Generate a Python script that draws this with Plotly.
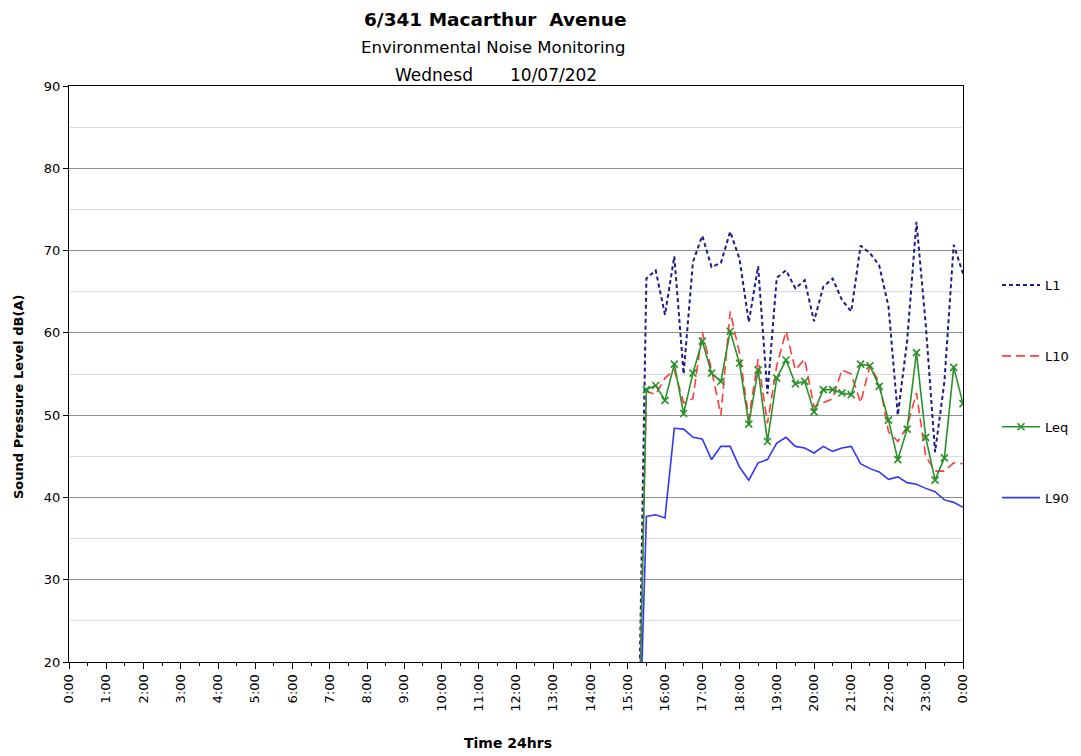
import plotly.graph_objects as go

# ---------------- data ----------------
times = ["15:15", "15:30", "15:45", "16:00", "16:15", "16:30", "16:45", "17:00", "17:15",
         "17:30", "17:45", "18:00", "18:15", "18:30", "18:45", "19:00", "19:15",
         "19:30", "19:45", "20:00", "20:15", "20:30", "20:45", "21:00", "21:15",
         "21:30", "21:45", "22:00", "22:15", "22:30", "22:45", "23:00", "23:15",
         "23:30", "23:45", "24:00"]

L1 = [0, 66.6, 67.6, 62.2, 69.3, 55.0, 68.6, 71.8, 68.0, 68.5, 72.3, 69.0, 61.3,
      68.1, 52.6, 66.7, 67.6, 65.4, 66.4, 61.4, 65.6, 66.6, 64.0, 62.6, 70.6,
      69.7, 68.2, 63.2, 50.0, 59.0, 73.5, 61.0, 45.5, 54.0, 70.7, 67.2]

L10 = [0, 52.9, 52.5, 54.5, 55.5, 51.5, 52.0, 60.1, 55.5, 50.0, 62.6, 57.5, 49.6,
       56.8, 49.0, 56.0, 60.2, 55.5, 56.8, 51.0, 51.5, 52.0, 55.5, 55.0, 51.5,
       56.0, 54.0, 48.0, 46.8, 48.6, 52.7, 45.0, 43.2, 43.2, 44.2, 44.1]

Leq = [0, 53.1, 53.6, 51.8, 56.2, 50.2, 55.1, 59.0, 55.1, 54.1, 60.2, 56.3, 48.9,
       55.5, 46.8, 54.5, 56.7, 53.8, 54.1, 50.4, 53.1, 53.1, 52.7, 52.5, 56.2,
       56.0, 53.5, 49.4, 44.6, 48.3, 57.6, 47.3, 42.1, 44.8, 55.8, 51.4]

L90 = [0, 37.7, 37.9, 37.5, 48.4, 48.3, 47.3, 47.1, 44.6, 46.2, 46.2, 43.7, 42.1,
       44.2, 44.6, 46.6, 47.3, 46.2, 46.0, 45.4, 46.2, 45.6, 46.0, 46.2, 44.1,
       43.5, 43.1, 42.2, 42.5, 41.8, 41.6, 41.1, 40.7, 39.7, 39.4, 38.8]

tick_hours = list(range(25))
tick_labels = ["0:00", "1:00", "2:00", "3:00", "4:00", "5:00", "6:00", "7:00", "8:00",
               "9:00", "10:00", "11:00", "12:00", "13:00", "14:00", "15:00", "16:00",
               "17:00", "18:00", "19:00", "20:00", "21:00", "22:00", "23:00", "0:00"]


def to_hours(s):
    h, m = s.split(":")
    return int(h) + int(m) / 60.0


x = [to_hours(t) for t in times]

FONT = "DejaVu Sans, Liberation Sans, Arial, sans-serif"

fig = go.Figure()
fig.add_trace(go.Scatter(x=x, y=L1, name="L1", mode="lines", legendgroup="a",
                         line=dict(color="#1c1c8a", width=2, dash="4px,3px")))
fig.add_trace(go.Scatter(x=x, y=L10, name="L10", mode="lines", legendgroup="b",
                         line=dict(color="#ff3b3b", width=1.6, dash="9px,5px")))
fig.add_trace(go.Scatter(x=x, y=Leq, name="Leq", mode="lines+markers", legendgroup="c",
                         line=dict(color="#2a912a", width=1.6),
                         marker=dict(symbol="x-thin-open", size=7,
                                     line=dict(color="#2a912a", width=1.6))))
fig.add_trace(go.Scatter(x=x, y=L90, name="L90", mode="lines", legendgroup="d",
                         line=dict(color="#3535f5", width=1.6)))

# plot-area in pixels: x 69..963, y 86..662
L, R, T, B = 69, 963, 86, 662
W, H = 1081, 756


def px(xp):
    return (xp - L) / (R - L)


def py(yp):
    return (B - yp) / (B - T)


fig.update_layout(
    width=W, height=H,
    margin=dict(l=L, r=W - R, t=T, b=H - B, autoexpand=False),
    paper_bgcolor="white", plot_bgcolor="white",
    font=dict(family=FONT, size=13, color="black"),
    showlegend=True,
    legend=dict(x=px(997), y=py(270), xanchor="left", yanchor="top",
                tracegroupgap=51, font=dict(size=13, family=FONT),
                bgcolor="rgba(0,0,0,0)", itemwidth=38),
    xaxis=dict(range=[0, 24], tickvals=tick_hours, ticktext=tick_labels,
               tickangle=-90, ticks="outside", ticklen=6, tickcolor="black",
               showgrid=False, zeroline=False, showline=True, linecolor="black",
               linewidth=1, mirror=True, tickfont=dict(size=13),
               minor=dict(dtick=0.5, tick0=0, ticks="outside", ticklen=3,
                          tickcolor="black", showgrid=False)),
    xaxis2=dict(range=[0, 24], overlaying="x", anchor="y", side="bottom",
                tickvals=tick_hours, ticks="inside", ticklen=5, tickcolor="black",
                showticklabels=False, showgrid=False, zeroline=False, showline=False),
    yaxis=dict(range=[20, 90], dtick=10, tick0=0, ticks="outside", ticklen=5,
               tickcolor="black", showgrid=True, gridcolor="#8f8f8f", gridwidth=1,
               zeroline=False, showline=True, linecolor="black", linewidth=1,
               mirror=True, tickfont=dict(size=13),
               minor=dict(dtick=5, tick0=0, showgrid=True, gridcolor="#dcdcdc",
                          gridwidth=1, ticks="")),
    annotations=[
        dict(text="<b>6/341 Macarthur\u00a0 Avenue</b>", xref="paper", yref="paper",
             x=px(495), y=py(19.5), xanchor="center", yanchor="middle",
             showarrow=False, font=dict(size=18.5, family=FONT)),
        dict(text="Environmental Noise Monitoring", xref="paper", yref="paper",
             x=px(493.5), y=py(47.5), xanchor="center", yanchor="middle",
             showarrow=False, font=dict(size=16.5, family=FONT)),
        dict(text="Wednesd", xref="paper", yref="paper",
             x=px(434), y=py(75.5), xanchor="center", yanchor="middle",
             showarrow=False, font=dict(size=17, family=FONT)),
        dict(text="10/07/202", xref="paper", yref="paper",
             x=px(553), y=py(75.5), xanchor="center", yanchor="middle",
             showarrow=False, font=dict(size=17, family=FONT)),
        dict(text="<b>Sound Pressure Level dB(A)</b>", xref="paper", yref="paper",
             x=px(18), y=py(397), xanchor="center", yanchor="middle", textangle=-90,
             showarrow=False, font=dict(size=13, family=FONT)),
        dict(text="<b>Time 24hrs</b>", xref="paper", yref="paper",
             x=px(508), y=py(743), xanchor="center", yanchor="middle",
             showarrow=False, font=dict(size=14, family=FONT)),
    ],
)

fig.write_html("out.html", config={"displayModeBar": False},
               post_script="document.body.style.margin='0px';")
